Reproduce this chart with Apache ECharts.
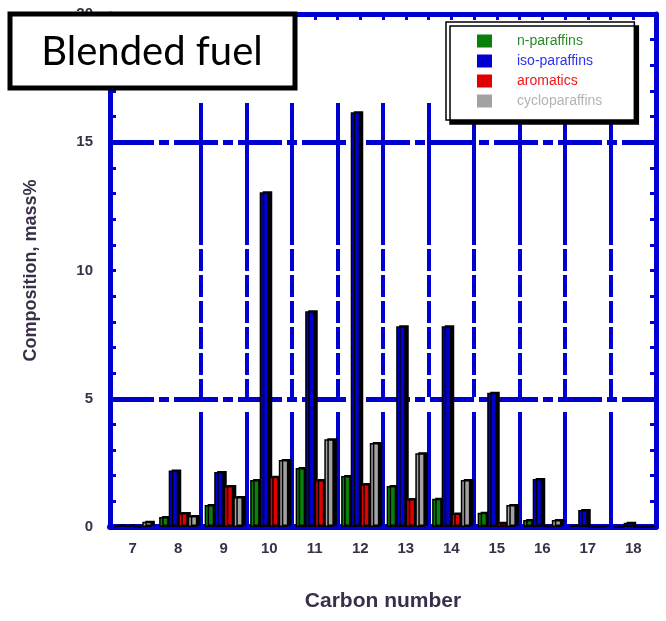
<!DOCTYPE html>
<html>
<head>
<meta charset="utf-8">
<script src="https://cdn.jsdelivr.net/npm/echarts@6/dist/echarts.min.js"></script>
<style>
  html, body { margin: 0; padding: 0; background: #fff; }
  #chart { width: 666px; height: 621px; }
</style>
</head>
<body>
<div id="chart"></div>
<script>
var carbonNumbers = ['7', '8', '9', '10', '11', '12', '13', '14', '15', '16', '17', '18'];
var nParaffins = [0.05, 0.39, 0.86, 1.83, 2.3, 1.99, 1.6, 1.1, 0.56, 0.27, 0.05, 0];
var isoParaffins = [0.05, 2.2, 2.14, 13.05, 8.41, 16.17, 7.83, 7.83, 5.23, 1.87, 0.66, 0.17];
var aromatics = [0.02, 0.55, 1.6, 1.96, 1.83, 1.68, 1.09, 0.53, 0.17, 0.03, 0, 0];
var cycloParaffins = [0.2, 0.43, 1.17, 2.61, 3.42, 3.27, 2.88, 1.83, 0.86, 0.27, 0.02, 0];
var gridLevels = [5, 15];

var frameBlue = '#0000d0';
var labelColor = '#3a2f48';

var myChart = echarts.init(document.getElementById('chart'));

// bar look: black outline + hard shadow on the right
function barStyle(color) {
    return {
        color: color,
        borderColor: '#000',
        borderWidth: 1.5,
        shadowColor: '#000',
        shadowOffsetX: 3,
        shadowOffsetY: -1,
        shadowBlur: 0
    };
}

var option = {
    animation: false,
    backgroundColor: '#fff',
    grid: [
        { left: 110, right: 10, top: 14, bottom: 94 },
        { left: 110, right: 10, top: 103, bottom: 94 }   // only for the vertical grid lines
    ],
    legend: {
        orient: 'vertical',
        left: 446,
        top: 22,
        padding: [12, 32, 12, 31],
        itemWidth: 15,
        itemHeight: 13,
        itemGap: 6,
        icon: 'rect',
        backgroundColor: '#fff',
        borderColor: '#000',
        borderWidth: 1.5,
        shadowColor: '#000',
        shadowOffsetX: 4,
        shadowOffsetY: 4,
        shadowBlur: 0,
        itemStyle: { borderWidth: 0, shadowColor: 'transparent', shadowOffsetX: 0, shadowOffsetY: 0 },
        textStyle: { fontFamily: 'Liberation Sans', fontSize: 14, padding: [0, 0, 0, 20] },
        data: [
            { name: 'n-paraffins', textStyle: { color: '#2a8a2a' } },
            { name: 'iso-paraffins', textStyle: { color: '#3030f0' } },
            { name: 'aromatics', textStyle: { color: '#f01818' } },
            { name: 'cycloparaffins', textStyle: { color: '#b4b4b4' } }
        ]
    },
    xAxis: [
        {
            type: 'category',
            gridIndex: 0,
            data: carbonNumbers,
            name: 'Carbon number',
            nameLocation: 'middle',
            nameGap: 64,
            nameTextStyle: { color: labelColor, fontFamily: 'Liberation Sans', fontWeight: 'bold', fontSize: 21 },
            axisLine: { lineStyle: { color: frameBlue, width: 6 } },
            axisTick: { show: false },
            axisLabel: { color: labelColor, fontFamily: 'Liberation Sans', fontWeight: 'bold', fontSize: 15, margin: 14 },
            splitLine: { show: false }
        },
        {
            type: 'value',
            gridIndex: 0,
            position: 'top',
            min: 6.5,
            max: 18.5,
            interval: 0.5,
            axisLine: { show: true, onZero: false, lineStyle: { color: frameBlue, width: 5 } },
            axisTick: { show: true, inside: true, length: 6, lineStyle: { color: frameBlue, width: 3 } },
            axisLabel: { show: false },
            splitLine: { show: false }
        },
        {
            type: 'category',
            gridIndex: 1,
            data: carbonNumbers,
            axisLine: { show: false },
            axisTick: { show: false },
            axisLabel: { show: false },
            splitLine: {
                show: true,
                interval: function (i) { return i >= 2; },
                lineStyle: {
                    color: frameBlue,
                    width: 4,
                    type: [142, 4, 22, 4, 22, 4, 22, 4, 22, 4, 22, 4, 18, 15, 200]
                }
            }
        }
    ],
    yAxis: [
        {
            type: 'value',
            gridIndex: 0,
            min: 0,
            max: 20,
            interval: 5,
            name: 'Composition, mass%',
            nameLocation: 'middle',
            nameGap: 70,
            nameTextStyle: { color: labelColor, fontFamily: 'Liberation Sans', fontWeight: 'bold', fontSize: 18 },
            axisLine: { show: true, lineStyle: { color: frameBlue, width: 5 } },
            axisTick: { show: true, inside: true, length: 6, lineStyle: { color: frameBlue, width: 3 } },
            minorTick: { show: true, splitNumber: 5, length: 6, lineStyle: { color: frameBlue, width: 3 } },
            axisLabel: { color: labelColor, fontFamily: 'Liberation Sans', fontWeight: 'bold', fontSize: 15, margin: 17 },
            splitLine: { show: false }
        },
        {
            type: 'value',
            gridIndex: 0,
            position: 'right',
            min: 0,
            max: 20,
            interval: 5,
            axisLine: { show: true, lineStyle: { color: frameBlue, width: 5 } },
            axisTick: { show: true, inside: true, length: 6, lineStyle: { color: frameBlue, width: 3 } },
            minorTick: { show: true, splitNumber: 5, length: 6, lineStyle: { color: frameBlue, width: 3 } },
            axisLabel: { show: false },
            splitLine: { show: false }
        },
        {
            type: 'value',
            gridIndex: 1,
            show: false,
            min: 0,
            max: 1
        }
    ],
    series: [
        {
            name: 'n-paraffins',
            type: 'bar',
            xAxisIndex: 0,
            yAxisIndex: 0,
            barGap: '0%',
            barCategoryGap: '16%',
            z: 3,
            itemStyle: barStyle('#0a800a'),
            data: nParaffins,
            markLine: {
                silent: true,
                z: 1,
                symbol: 'none',
                label: { show: false },
                lineStyle: { color: frameBlue, width: 5, type: [44, 5, 10, 5] },
                data: gridLevels.map(function (v) { return { yAxis: v }; })
            }
        },
        {
            name: 'iso-paraffins',
            type: 'bar',
            xAxisIndex: 0,
            yAxisIndex: 0,
            z: 3,
            itemStyle: barStyle(frameBlue),
            data: isoParaffins
        },
        {
            name: 'aromatics',
            type: 'bar',
            xAxisIndex: 0,
            yAxisIndex: 0,
            z: 3,
            itemStyle: barStyle('#e00000'),
            data: aromatics
        },
        {
            name: 'cycloparaffins',
            type: 'bar',
            xAxisIndex: 0,
            yAxisIndex: 0,
            z: 3,
            itemStyle: barStyle('#a2a2a2'),
            data: cycloParaffins
        }
    ],
    graphic: [
        {
            type: 'rect',
            z: 100,
            shape: { x: 10, y: 14, width: 285, height: 74 },
            style: { fill: '#fff', stroke: '#000', lineWidth: 5 }
        },
        {
            type: 'text',
            z: 101,
            x: 152,
            y: 52,
            style: {
                text: 'Blended fuel',
                fill: '#000',
                font: '40px Lato',
                align: 'center',
                verticalAlign: 'middle'
            }
        }
    ]
};

myChart.setOption(option);
</script>
</body>
</html>
